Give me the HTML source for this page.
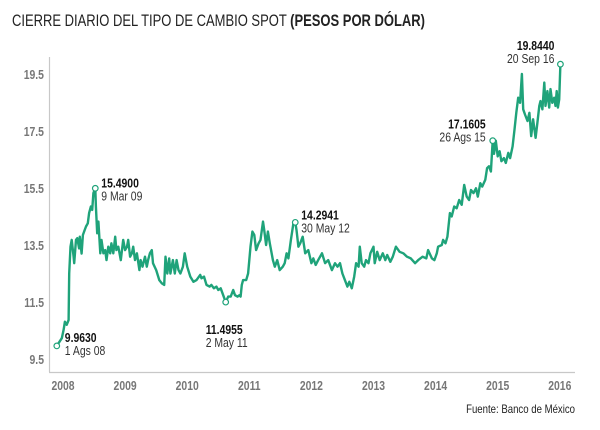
<!DOCTYPE html>
<html><head><meta charset="utf-8"><style>
body{margin:0;background:#fff;}
svg text{font-family:"Liberation Sans Narrow","Liberation Sans",sans-serif;}
</style></head><body>
<svg id="chart" width="600" height="425" viewBox="0 0 600 425" xmlns="http://www.w3.org/2000/svg">
<rect width="600" height="425" fill="#fff"/>
<text id="title" x="12" y="26" font-size="17" fill="#222">CIERRE DIARIO DEL TIPO DE CAMBIO SPOT <tspan font-weight="bold">(PESOS POR DÓLAR)</tspan></text>
<line x1="49.5" y1="57" x2="49.5" y2="372" stroke="#c8c8c8" stroke-width="1.2"/>
<line x1="49" y1="372.5" x2="575" y2="372.5" stroke="#c8c8c8" stroke-width="1.2"/>
<g id="yticks"></g><g id="xticks"></g>
<path id="line" fill="none" stroke="#1fa37a" stroke-width="2.4" stroke-linejoin="round"/>
<g id="marks"></g>
<text id="src" x="575" y="413" font-size="12" fill="#222" text-anchor="end">Fuente: Banco de México</text>
</svg>
<script>
const yearsSince2008 = [-0.10,-0.02,0.01,0.03,0.06,0.09,0.10,0.12,0.14,0.17,0.18,0.21,0.23,0.26,0.27,0.30,0.32,0.34,0.37,0.40,0.42,0.45,0.47,0.49,0.52,0.53,0.55,0.57,0.60,0.62,0.65,0.68,0.70,0.73,0.76,0.78,0.81,0.84,0.86,0.89,0.93,0.97,1.00,1.03,1.05,1.08,1.11,1.13,1.16,1.19,1.23,1.25,1.28,1.32,1.35,1.37,1.40,1.43,1.45,1.50,1.55,1.59,1.63,1.65,1.68,1.71,1.73,1.77,1.80,1.83,1.86,1.89,1.93,1.96,2.00,2.05,2.10,2.15,2.21,2.23,2.27,2.31,2.36,2.39,2.43,2.47,2.50,2.54,2.58,2.62,2.66,2.70,2.74,2.77,2.81,2.84,2.86,2.88,2.90,2.95,2.98,3.02,3.05,3.08,3.11,3.15,3.18,3.22,3.24,3.27,3.30,3.33,3.38,3.41,3.45,3.49,3.54,3.57,3.60,3.63,3.67,3.71,3.74,3.76,3.79,
3.82,3.86,3.90,3.95,4.00,4.03,4.07,4.11,4.17,4.22,4.27,4.33,4.38,4.42,4.46,4.50,4.54,4.58,4.61,4.65,4.69,4.72,4.76,4.78,4.81,4.85,4.88,4.92,4.95,5.00,5.02,5.06,5.10,5.15,5.19,5.22,5.27,5.31,5.36,5.42,5.48,5.54,5.60,5.67,5.72,5.79,5.85,5.88,5.94,5.98,6.02,6.04,6.10,6.12,6.16,6.19,6.23,6.26,6.30,6.34,6.38,6.42,6.46,6.50,6.54,6.57,6.61,6.65,6.68,6.72,6.75,6.80,6.83,6.86,6.89,6.92,6.94,6.97,7.00,7.03,7.06,7.10,7.13,7.17,7.20,7.24,7.27,7.30,7.33,7.36,7.39,7.41,7.44,7.48,7.51,7.54,7.57,7.61,7.64,7.67,7.69,7.72,7.75,7.77,7.80,7.83,7.85,7.88,7.91,7.93,7.95,7.97,7.99,8.01];
const rates = [9.96,10.23,10.52,10.81,10.7,10.87,12.5,13.44,13.68,13.09,12.86,13.68,13.74,13.38,13.79,13.2,13.85,13.97,14.15,14.26,14.62,14.85,14.73,15.32,15.49,14.85,13.91,14.32,13.21,13.68,13.21,13.32,12.97,13.44,13.21,13.56,13.21,13.79,13.32,13.44,12.97,13.68,13.32,13.44,13.68,13.09,13.21,13.44,12.97,13.21,12.62,12.97,12.74,13.09,12.74,12.97,13.21,13.32,12.86,12.62,12.27,12.16,12.1,13.09,12.5,13.03,12.5,12.97,12.5,12.97,12.62,12.5,12.74,13.21,12.74,12.39,12.21,12.27,12.45,12.33,12.39,12.1,12.04,12.1,11.98,12.04,11.92,11.98,11.74,11.4955,11.69,11.69,11.92,11.74,11.69,11.74,11.69,12.1,12.27,12.27,12.5,13.44,13.97,13.85,13.32,13.56,13.68,14.32,14.03,13.5,13.97,13.56,12.97,12.74,12.97,12.62,12.74,12.86,13.21,13.03,13.68,14.26,14.2941,14.03,13.44,
13.56,13.79,13.21,13.32,12.86,13.03,12.8,12.97,13.21,12.86,12.97,12.62,12.86,12.74,12.86,12.5,12.27,12.04,12.21,11.98,12.39,12.86,12.74,13.44,12.86,12.74,12.97,12.86,13.21,13.44,12.86,13.26,12.97,13.21,12.97,13.15,12.91,13.09,13.44,13.26,13.21,13.09,13.03,12.86,12.97,13.09,13.03,13.32,13.03,12.97,13.21,13.44,13.5,13.68,13.56,13.79,14.62,14.5,14.85,14.79,15.08,14.91,15.61,15.2,15.08,15.43,15.32,15.49,15.2,15.67,15.55,15.79,16.2,16.26,16.08,17.1605,16.7,17.16,16.61,16.79,16.44,16.55,16.38,16.73,16.55,16.96,17.55,18.14,18.67,18.49,19.5,18.26,18.08,17.85,18.14,17.32,17.91,17.26,17.79,18.38,18.55,18.26,19.2,18.38,18.9,18.32,18.97,18.49,18.67,18.38,18.9,18.32,18.61,19.844];
const yTickValues = [9.5,11.5,13.5,15.5,17.5,19.5];
const yTickLabels = ["9.5","11.5","13.5","15.5","17.5","19.5"];
const xTickYears = [2008,2009,2010,2011,2012,2013,2014,2015,2016];
const annotationYears = [-0.10,0.52,2.62,3.74,6.92,8.01];
const annotationValueLabels = ["9.9630","15.4900","11.4955","14.2941","17.1605","19.8440"];
const annotationDateLabels = ["1 Ags 08","9 Mar 09","2 May 11","30 May 12","26 Ags 15","20 Sep 16"];

const NS="http://www.w3.org/2000/svg";
const xs = yr => 63 + (yr-2008)*62.1;
const ys = v => 359 - (v-9.5)*28.5;
function mk(tag, attrs, parent){const e=document.createElementNS(NS,tag);for(const k in attrs)e.setAttribute(k,attrs[k]);parent.appendChild(e);return e;}

const yg=document.getElementById('yticks');
yTickValues.forEach((v,i)=>{
  const t=mk('text',{x:44,y:ys(v)+5,'font-size':13,'font-weight':'bold',fill:'#777','text-anchor':'end'},yg);
  
  
  t.textContent=yTickLabels[i];
});
const xg=document.getElementById('xticks');
xTickYears.forEach(yr=>{
  const t=mk('text',{x:xs(yr),y:390,'font-size':13,'font-weight':'bold',fill:'#777','text-anchor':'middle'},xg);
  
  
  t.textContent=String(yr);
});
let d='';
rates.forEach((v,i)=>{d+=(i?'L':'M')+xs(2008+yearsSince2008[i]).toFixed(1)+','+ys(v).toFixed(1);});
document.getElementById('line').setAttribute('d',d);

const mg=document.getElementById('marks');
const offsets=[[8,-4,'start'],[6,-1,'start'],[-20,32,'start'],[6,-3,'start'],[-7,-12,'end'],[-6,-14,'end']];
annotationYears.forEach((ay,i)=>{
  let idx=0,best=1e9;
  yearsSince2008.forEach((y,j)=>{const dd=Math.abs(y-ay);if(dd<best){best=dd;idx=j;}});
  const cx=xs(2008+yearsSince2008[idx]), cy=ys(rates[idx]);
  const c=mk('circle',{cx:cx,cy:cy,r:2.8,fill:'#fff',stroke:'#1fa37a','stroke-width':1.2},mg);
  
  
  const [dx,dy,anc]=offsets[i];
  const t1=mk('text',{x:cx+dx,y:cy+dy,'font-size':13,'font-weight':'bold',fill:'#111','text-anchor':anc},mg);
  
  
  t1.textContent=annotationValueLabels[i];
  const t2=mk('text',{x:cx+dx,y:cy+dy+13,'font-size':13,fill:'#333','text-anchor':anc},mg);
  
  
  t2.textContent=annotationDateLabels[i];
});
// condense text to mimic narrow font
document.querySelectorAll('svg text').forEach(t=>{
  let w=t.getComputedTextLength();
  if(t.id==='title'){t.setAttribute('textLength',413);}
  else t.setAttribute('textLength',(w*0.8).toFixed(1));
  t.setAttribute('lengthAdjust','spacingAndGlyphs');
});
</script>
</body></html>
